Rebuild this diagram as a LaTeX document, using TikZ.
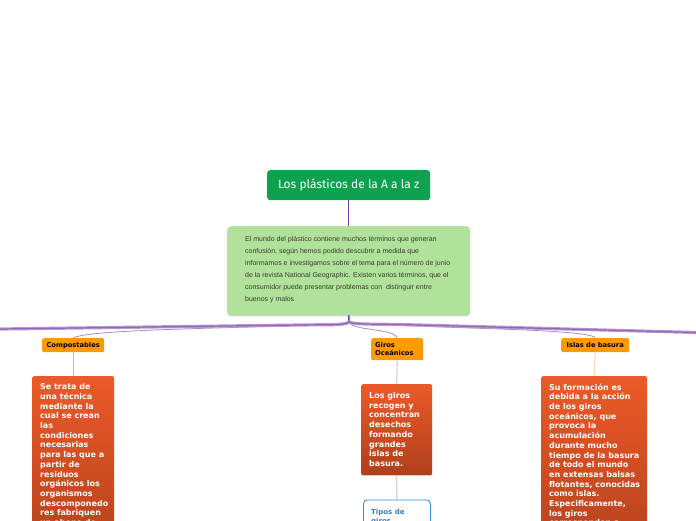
\documentclass[tikz,border=0pt]{standalone}
\usepackage{fontspec}
\setmainfont{Liberation Sans}
\newfontfamily\titlefont{Fira Sans}
\newfontfamily\boxfont{DejaVu Sans}
\usetikzlibrary{shadows}
\definecolor{titlegreen}{HTML}{0CA24F}
\definecolor{descgreen}{HTML}{B0E29C}
\definecolor{desctext}{HTML}{3A3A2A}
\definecolor{mainpurple}{HTML}{7A3FA6}
\definecolor{bandpurple}{HTML}{B79CD4}
\definecolor{thinpurple}{HTML}{A98CCB}
\definecolor{palepurple}{HTML}{C4B0DD}
\definecolor{labelorange}{HTML}{FF9A00}
\definecolor{redtop}{HTML}{EC5A28}
\definecolor{redbottom}{HTML}{B03F1C}
\definecolor{peach}{HTML}{F8C9A2}
\definecolor{tiposblue}{HTML}{3A8BDA}
\tikzset{
  titlebox/.style={fill=titlegreen, rounded corners=3pt, text=white,
    font=\titlefont\fontsize{12}{14}\selectfont, inner sep=0pt},
  descbox/.style={fill=descgreen, rounded corners=4pt, inner sep=0pt,
    drop shadow={opacity=0.35, shadow xshift=0pt, shadow yshift=-1.2pt}},
  desctxt/.style={text=desctext, align=left, inner sep=0pt,
    font=\fontsize{7}{12}\selectfont},
  labelbox/.style={fill=labelorange, rounded corners=2pt, inner sep=0pt,
    font=\boxfont\bfseries\fontsize{6.7}{8}\selectfont, text=black},
  redbox/.style={top color=redtop, bottom color=redbottom, rounded corners=2pt,
    inner sep=0pt, drop shadow={opacity=0.25, shadow xshift=0pt, shadow yshift=-1pt}},
  redtxt/.style={text=white, align=left, inner sep=0pt,
    font=\boxfont\bfseries\fontsize{8}{9.7}\selectfont},
  thinlink/.style={draw=thinpurple, line width=0.8pt},
  stemlink/.style={line width=0.8pt},
}
\begin{document}
\begin{tikzpicture}[x=1pt,y=-1pt]
\useasboundingbox (0,0) rectangle (696,520);
\clip (0,0) rectangle (696,520);
\fill[white] (0,0) rectangle (696,520);

% title
\node[titlebox, anchor=north west, minimum width=163pt, minimum height=30pt] (title) at (267,170) {Los plásticos de la A a la z};

% description
\node[descbox, anchor=north west, minimum width=243pt, minimum height=89pt] (desc) at (227,226) {};
\node[desctxt, anchor=west] (desctext) at (245,270) {El mundo del plástico contiene muchos términos que generan\\
confusión, según hemos podido descubrir a medida que\\
informamos e investigamos sobre el tema para el número de junio\\
de la revista National Geographic. Existen varios términos, que el\\
consumidor puede presentar problemas con \ distinguir entre\\
buenos y malos};

\draw[mainpurple, line width=1.2pt] (title.south) -- (desc.north);

% hub
\coordinate (hub) at (349,322);
\coordinate (leftend) at (0,329);
\coordinate (rightend) at (696,332.5);
\draw[mainpurple, line width=1.6pt] (desc.south) -- (hub);

% orange labels
\node[labelbox, anchor=north west, minimum width=62pt, minimum height=14pt] (comp) at (42,338) {Compostables};
\node[labelbox, anchor=north west, minimum width=52pt, minimum height=22pt, align=left, text width=44pt] (giros) at (371,338) {Giros\\Oceánicos};
\node[labelbox, anchor=north west, minimum width=68pt, minimum height=14pt] (islas) at (561,338) {Islas de basura};

% thin links
\draw[thinlink] (hub) .. controls (330,328) and (90,327) .. (comp.north);
\draw[thinlink] (hub) .. controls (352,331) and (394,328) .. (giros.north);
\draw[thinlink] (hub) .. controls (420,329) and (590,328) .. (islas.north);

% main branches
\draw[bandpurple, line width=3.2pt] (hub) .. controls (345,325.5) and (330,324.5) .. (300,325) -- (leftend);
\draw[mainpurple!80, line width=1.2pt] (hub) .. controls (345,325.5) and (330,324.5) .. (300,325) -- (leftend);
\draw[bandpurple, line width=3.2pt] (hub) .. controls (354,324.5) and (370,324) .. (400,324.5) -- (rightend);
\draw[mainpurple!80, line width=1.2pt] (hub) .. controls (354,324.5) and (370,324) .. (400,324.5) -- (rightend);

% red boxes
\node[redbox, anchor=north west, minimum width=82pt, minimum height=190pt] (compbox) at (32,376) {};
\node[redtxt, anchor=north west] (comptext) at (40,383.5) {Se trata de\\una técnica\\mediante la\\cual se crean\\las\\condiciones\\necesarias\\para las que a\\partir de\\residuos\\orgánicos los\\organismos\\descomponedo\\res fabriquen\\un abono de};

\node[redbox, anchor=north west, minimum width=71pt, minimum height=91pt] (girosbox) at (361,384) {};
\node[redtxt, anchor=west] (girostext) at (369,429.5) {Los giros\\recogen y\\concentran\\desechos\\formando\\grandes\\islas de\\basura.};

\node[redbox, anchor=north west, minimum width=106pt, minimum height=190pt] (islasbox) at (541,376) {};
\node[redtxt, anchor=north west] (islastext) at (549,383.5) {Su formación es\\debida a la acción\\de los giros\\oceánicos, que\\provoca la\\acumulación\\durante mucho\\tiempo de la basura\\de todo el mundo\\en extensas balsas\\flotantes, conocidas\\como islas.\\Especificamente,\\los giros\\corresponden a};

% tipos box
\node[draw=tiposblue, fill=white, line width=0.8pt, rounded corners=4pt, anchor=north west, minimum width=67pt, minimum height=40pt, inner sep=0pt] (tipos) at (363,499.5) {};
\node[anchor=north west, align=left, inner sep=0pt, text=tiposblue!90!black, font=\boxfont\bfseries\fontsize{7}{9}\selectfont] (tipostext) at (371,509) {Tipos de\\giros};

% vertical links
\draw[palepurple, stemlink] (comp.south) -- (compbox.north);
\draw[palepurple, stemlink] (giros.south) -- (girosbox.north);
\draw[peach, stemlink] (islas.south) -- (islasbox.north);
\draw[palepurple, stemlink] (girosbox.south) -- (tipos.north);
\end{tikzpicture}
\end{document}
